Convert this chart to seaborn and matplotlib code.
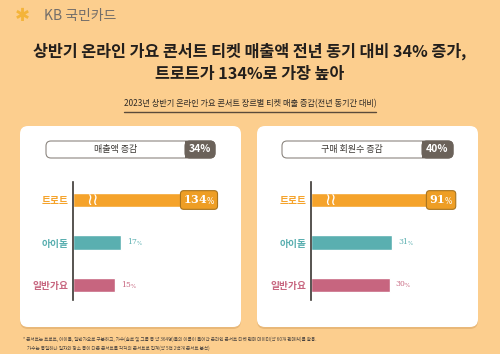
import matplotlib.pyplot as plt
import seaborn as sns
import pandas as pd
from matplotlib.patches import FancyBboxPatch, Rectangle
from matplotlib.lines import Line2D
import matplotlib.transforms as mtransforms

# ---- Data -------------------------------------------------------------####
genres = ['트로트', '아이돌', '일반가요']
sales_growth = [134, 17, 15]
member_growth = [91, 31, 30]
panel_titles = ['매출액 증감', '구매 회원수 증감']
panel_totals = [34, 40]
genre_colors = ['#F5A32B', '#5AAFB0', '#C7657F']

title_lines = ['상반기 온라인 가요 콘서트 티켓 매출액 전년 동기 대비 34% 증가,',
               '트로트가 134%로 가장 높아']
subtitle = '2023년 상반기 온라인 가요 콘서트 장르별 티켓 매출 증감(전년 동기간 대비)'
footnotes = ['* 콘서트는 트로트, 아이돌, 일반가요로 구분하고, 가수(솔로 및 그룹 등 약 364명)들의 이름이 들어간 온라인 콘서트 티켓 판매 데이터(약 60개 판매처)를 활용.',
             '가수는 동일하나 일자와 장소 등이 다른 콘서트를 각각의 콘서트로 집계(약 5천 2백개 콘서트 분석)']

# ---- Style ------------------------------------------------------------####
sns.set_theme(style='white')
plt.rcParams['font.family'] = ['Noto Sans CJK KR', 'DejaVu Sans']
bg = '#FCCE8E'
W, H = 500, 354

fig = plt.figure(figsize=(W / 100, H / 100), dpi=100, facecolor=bg)


def fx(px):
    return px / W


def fy(py):
    return 1 - py / H


def box(px, py, pw, ph, r, **kw):
    p = FancyBboxPatch((px / 100, (H - py - ph) / 100), pw / 100, ph / 100,
                       boxstyle='round,pad=0,rounding_size=%f' % (r / 100),
                       transform=fig.dpi_scale_trans, **kw)
    fig.add_artist(p)
    return p


# logo
fig.text(fx(15), fy(16), '✱', color='#F4B43A', fontsize=13, ha='left', va='center',
         family=['DejaVu Sans'])
fig.text(fx(44), fy(16), 'KB 국민카드', color='#736E6A', fontsize=10, ha='left', va='center',
         fontweight='light')

# title
fig.text(0.5, fy(51), title_lines[0], ha='center', va='center', fontsize=11.7,
         fontweight='bold', color='#231F1C')
fig.text(0.5, fy(74), title_lines[1], ha='center', va='center', fontsize=11.7,
         fontweight='bold', color='#231F1C')
sub = fig.text(0.5, fy(104), subtitle, ha='center', va='center', fontsize=5.9, color='#2E2A26')
fig.canvas.draw()
bb = sub.get_window_extent()
fig.add_artist(Line2D([bb.x0 / W, bb.x1 / W], [fy(112), fy(112)], color='#5A4A3A', lw=1,
                      transform=fig.transFigure))

# panels
panel_x = [20, 257]
for px in panel_x:
    box(px, 128, 221, 201, 8, fc='#E9B878', ec='none', zorder=-2)
    box(px, 126, 221, 201, 8, fc='white', ec='none', zorder=-1)

# header pills
pills = [(46, 185, 215), (282, 422, 453)]
for (x0, xd, x1), ttl, tot in zip(pills, panel_titles, panel_totals):
    box(x0, 141, x1 - x0, 17, 5, fc='white', ec='#8C8680', lw=0.8)
    box(xd, 141, x1 - xd, 17, 5, fc='#6B625A', ec='#6B625A', lw=0.8)
    fig.add_artist(Rectangle((xd / 100, (H - 158) / 100), 8 / 100, 17 / 100, fc='#6B625A',
                             ec='none', transform=fig.dpi_scale_trans))
    fig.text(fx((x0 + xd) / 2), fy(149.5), ttl, ha='center', va='center', fontsize=6.5,
             color='#3A3632')
    fig.text(fx((xd + x1) / 2), fy(149.5), '%d%%' % tot, ha='center', va='center',
             fontsize=7.5, fontweight='bold', color='white')

# bar axes
axes_left = [73, 311]
caps = [51, 55]
xmaxes = [52, 56]
series = [sales_growth, member_growth]
for axl, cap, xmax, vals in zip(axes_left, caps, xmaxes, series):
    ax = fig.add_axes([fx(axl), fy(306.25), 147 / W, 127.5 / H])
    ax.patch.set_alpha(0)
    df = pd.DataFrame({'genre': genres, 'growth': vals})
    df['bar'] = df['growth'].clip(upper=cap)
    sns.barplot(data=df, x='bar', y='genre', hue='genre', palette=genre_colors, legend=False,
                width=0.33, saturation=1, ax=ax)
    ax.set_xlim(0, xmax)
    ax.set_ylim(2.5, -0.5)
    ax.set_xlabel('')
    ax.set_ylabel('')
    ax.set_xticks([])
    for s in ['top', 'right', 'bottom']:
        ax.spines[s].set_visible(False)
    ax.spines['left'].set_color('#3A3632')
    ax.spines['left'].set_linewidth(1.2)
    ax.spines['left'].set_bounds(-0.42, 2.35)
    ax.tick_params(axis='y', length=0, pad=3)
    for lab, c in zip(ax.get_yticklabels(), genre_colors):
        lab.set_color(c)
        lab.set_fontweight('bold')
        lab.set_fontsize(7)

    trans = mtransforms.blended_transform_factory(ax.transAxes, ax.transData)
    for j, (v, b, c) in enumerate(zip(df['growth'], df['bar'], genre_colors)):
        if v > b:
            # broken bar: wavy marks and boxed value
            ax.text(0.135, j, '≀≀', transform=trans, color='white', fontsize=12,
                    ha='center', va='center', family=['DejaVu Sans'])
            ax.annotate('%d$_{\\%%}$' % v, xy=(b, j), xytext=(-1.5, 0), textcoords='offset points',
                        ha='right', va='center', color='white', fontsize=8,
                        fontweight='bold', family=['DejaVu Serif'],
                        bbox=dict(boxstyle='round,pad=0.22,rounding_size=0.3', fc='#EE9E25',
                                  ec='#A8741F', lw=0.8))
        else:
            ax.annotate('%d$_{\\%%}$' % v, xy=(b, j), xytext=(4, 0), textcoords='offset points',
                        ha='left', va='center', color=c, fontsize=5.5,
                        family=['DejaVu Serif'])

# footnotes
fig.text(fx(23), fy(339), footnotes[0], fontsize=3.3, color='#4A4440', ha='left', va='center')
fig.text(fx(27), fy(348), footnotes[1], fontsize=3.3, color='#4A4440', ha='left', va='center')

fig.savefig('out.png', dpi=100, facecolor=bg)
